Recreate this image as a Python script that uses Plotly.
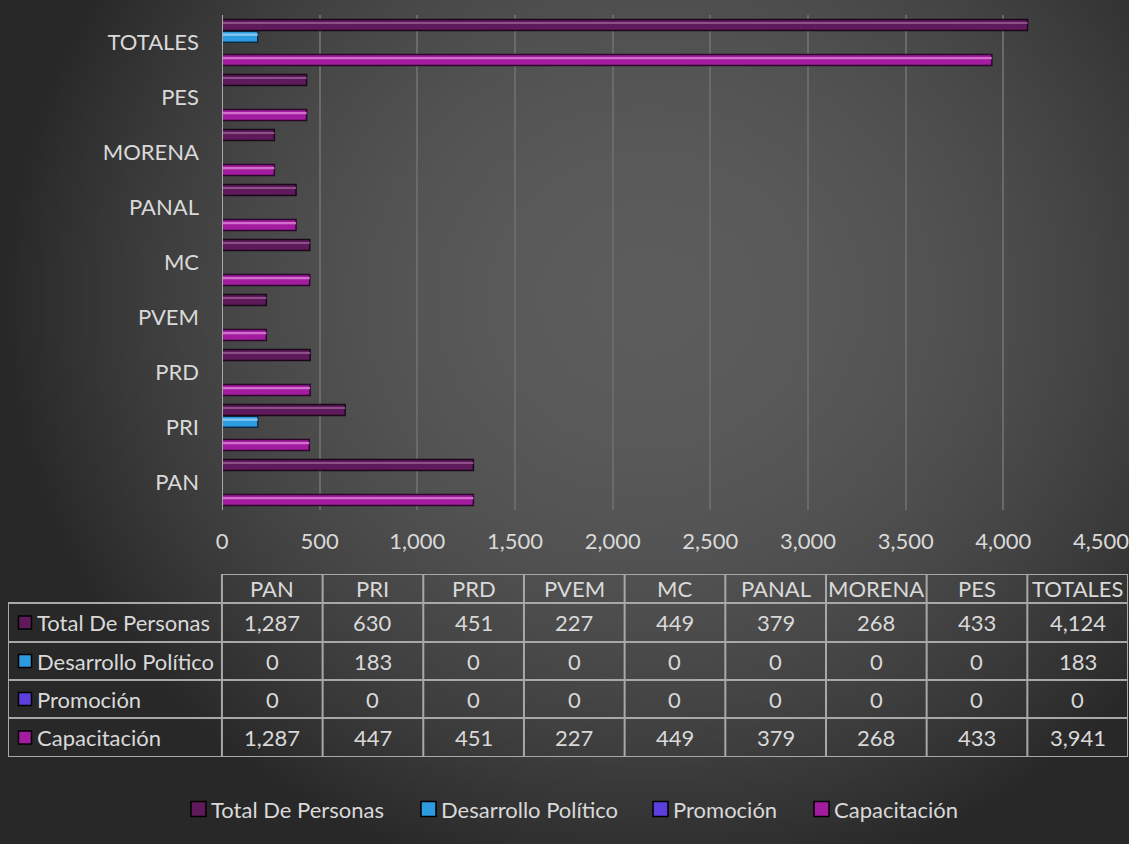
import zlib
import struct
import base64
import plotly.graph_objects as go

# ---------------- data ----------------
categories = ["PAN", "PRI", "PRD", "PVEM", "MC", "PANAL", "MORENA", "PES", "TOTALES"]
total_personas = [1287, 630, 451, 227, 449, 379, 268, 433, 4124]
desarrollo_politico = [0, 183, 0, 0, 0, 0, 0, 0, 183]
promocion = [0, 0, 0, 0, 0, 0, 0, 0, 0]
capacitacion = [1287, 447, 451, 227, 449, 379, 268, 433, 3941]
series_names = ["Total De Personas", "Desarrollo Político", "Promoción", "Capacitación"]
x_ticks = [0, 500, 1000, 1500, 2000, 2500, 3000, 3500, 4000, 4500]

# ---------------- styling ----------------
W, H = 1129, 844
ML, MR = 8, 1
PW = W - ML - MR
FONT = "Lato"
TXT = "#d9d9d9"
FS = 22
fills = {"Total De Personas": "#5e1a5a", "Desarrollo Político": "#2e9be0",
         "Promoción": "#5b3fdc", "Capacitación": "#a31ca0"}
shines = {"Total De Personas": "#8e5089", "Desarrollo Político": "#86c8f2",
          "Promoción": "#8f7af0", "Capacitación": "#d070cc"}
edges = {"Total De Personas": "#1a081a", "Desarrollo Político": "#0c2c4a",
         "Promoción": "#14103a", "Capacitación": "#2a0628"}
series_vals = {"Total De Personas": total_personas, "Desarrollo Político": desarrollo_politico,
               "Promoción": promocion, "Capacitación": capacitacion}


def px_x(px):
    return (px - ML) / PW


def px_y(py):
    return (H - py) / H


# radial background gradient as an embedded PNG
def gradient_png(w, h):
    cx, cy, rx, ry = 650, 300, 650, 600
    raw = bytearray()
    for j in range(h):
        raw.append(0)
        y = j / (h - 1) * H
        for i in range(w):
            x = i / (w - 1) * W
            d2 = ((x - cx) / rx) ** 2 + ((y - cy) / ry) ** 2
            v = int(round(40 + 52 * max(0.0, 1 - d2)))
            raw += bytes((v, v, v))

    def chunk(t, data):
        return struct.pack(">I", len(data)) + t + data + struct.pack(">I", zlib.crc32(t + data) & 0xffffffff)

    png = b"\x89PNG\r\n\x1a\n" + chunk(b"IHDR", struct.pack(">IIBBBBB", w, h, 8, 2, 0, 0, 0)) \
        + chunk(b"IDAT", zlib.compress(bytes(raw), 9)) + chunk(b"IEND", b"")
    return "data:image/png;base64," + base64.b64encode(png).decode()


fig = go.Figure()

# bars: slot 0 at the bottom of each category group
GROUP = 0.85
SLOT = GROUP / 4
BAR_W = 0.2
bottom_to_top = ["Capacitación", "Promoción", "Desarrollo Político", "Total De Personas"]
for k, name in enumerate(bottom_to_top):
    vals = [v if v else None for v in series_vals[name]]
    off = -GROUP / 2 + k * SLOT + (SLOT - BAR_W) / 2
    fig.add_trace(go.Bar(
        y=categories, x=vals, orientation="h", name=name, width=BAR_W, offset=off,
        marker=dict(color=fills[name], line=dict(color=edges[name], width=1.5)),
        showlegend=False,
    ))
    fig.add_trace(go.Bar(
        y=categories, x=vals, orientation="h", name=name, width=BAR_W * 0.2,
        offset=off + BAR_W * 0.58,
        marker=dict(color=shines[name], line=dict(width=0)),
        showlegend=False, hoverinfo="skip",
    ))

# ---------------- data table ----------------
COL_W = 100.7
HDR_W = 214.0
TBL_LEFT_PX = 8
x2_min = -0.5 - HDR_W / COL_W
row_edges = [0, 29, 68, 106, 144, 183]   # px offsets from table top
TBL_TOP, TBL_BOT = 574, 757


def x2_of_px(px):
    return x2_min + (px - TBL_LEFT_PX) / COL_W


annotations = []
shapes = []
rows = [("Total De Personas", total_personas), ("Desarrollo Político", desarrollo_politico),
        ("Promoción", promocion), ("Capacitación", capacitacion)]
hdr_c = (row_edges[0] + row_edges[1]) / 2
for i, c in enumerate(categories):
    annotations.append(dict(x=i, y=hdr_c, xref="x2", yref="y2", text=c, showarrow=False,
                            font=dict(family=FONT, size=FS, color=TXT)))
for r, (name, vals) in enumerate(rows):
    yc = (row_edges[r + 1] + row_edges[r + 2]) / 2
    for i, v in enumerate(vals):
        annotations.append(dict(x=i, y=yc, xref="x2", yref="y2", text=f"{v:,}", showarrow=False,
                                font=dict(family=FONT, size=FS, color=TXT)))
    annotations.append(dict(x=x2_of_px(35), y=yc, xref="x2", yref="y2", text=name, showarrow=False,
                            xanchor="left", font=dict(family=FONT, size=FS, color=TXT)))

fig.add_trace(go.Scatter(
    x=[x2_of_px(25)] * 4,
    y=[(row_edges[r + 1] + row_edges[r + 2]) / 2 for r in range(4)],
    mode="markers", xaxis="x2", yaxis="y2", showlegend=False, hoverinfo="skip",
    marker=dict(symbol="square", size=13, color=[fills[n] for n, _ in rows],
                line=dict(color="#000000", width=1.5)),
))

LINE = dict(color="#a8a8a8", width=2)
x_right = len(categories) - 0.5
shapes.append(dict(type="line", xref="x2", yref="y2", x0=-0.5, x1=x_right,
                   y0=row_edges[0], y1=row_edges[0], line=LINE))
for e in row_edges[1:]:
    shapes.append(dict(type="line", xref="x2", yref="y2", x0=x2_min, x1=x_right, y0=e, y1=e, line=LINE))
shapes.append(dict(type="line", xref="x2", yref="y2", x0=x2_min, x1=x2_min,
                   y0=row_edges[1], y1=row_edges[-1], line=LINE))
for k in range(len(categories) + 1):
    xx = k - 0.5
    shapes.append(dict(type="line", xref="x2", yref="y2", x0=xx, x1=xx,
                       y0=row_edges[0], y1=row_edges[-1], line=LINE))

# ---------------- legend (manual, Excel style) ----------------
LEG_Y = 809
legend_square_px = [191, 421, 653, 814]
for name, sx in zip(series_names, legend_square_px):
    shapes.append(dict(type="rect", xref="paper", yref="paper",
                       x0=px_x(sx), x1=px_x(sx + 15), y0=px_y(LEG_Y + 7.5), y1=px_y(LEG_Y - 7.5),
                       fillcolor=fills[name], line=dict(color="#000000", width=1.5)))
    annotations.append(dict(x=px_x(sx + 18), y=px_y(LEG_Y), xref="paper", yref="paper",
                            text=name, showarrow=False, xanchor="left", yanchor="middle",
                            font=dict(family=FONT, size=FS, color=TXT)))

# axis line at x = 0
shapes.append(dict(type="line", xref="x", yref="paper", x0=0, x1=0, y0=px_y(510), y1=px_y(15),
                   line=dict(color="#a8a8a8", width=2)))

fig.update_layout(
    width=W, height=H,
    margin=dict(l=ML, r=MR, t=0, b=0, autoexpand=False),
    paper_bgcolor="#333333",
    plot_bgcolor="rgba(0,0,0,0)",
    barmode="overlay",
    showlegend=False,
    font=dict(family=FONT, size=FS, color=TXT),
    images=[dict(source=gradient_png(226, 169), xref="paper", yref="paper",
                 x=px_x(0), y=1, sizex=W / PW, sizey=1, sizing="stretch", layer="below")],
    xaxis=dict(domain=[px_x(222), px_x(1101)], range=[0, 4500], tickvals=x_ticks, tickformat=",",
               showgrid=True, gridcolor="#6a6a6a", gridwidth=1.5, zeroline=False,
               showline=False, ticks="", ticklabelstandoff=16, anchor="y",
               ticklabeloverflow="allow", automargin=False,
               tickfont=dict(family=FONT, size=FS, color=TXT), fixedrange=True),
    yaxis=dict(domain=[px_y(510), px_y(15)], showgrid=False, zeroline=False, showline=False,
               ticks="", ticklabelstandoff=22, anchor="x", type="category", automargin=False,
               categoryorder="array", categoryarray=categories, range=[-0.5, len(categories) - 0.5],
               tickfont=dict(family=FONT, size=FS, color=TXT), fixedrange=True),
    xaxis2=dict(domain=[0, 1], range=[x2_min, x_right], visible=False, anchor="y2", fixedrange=True),
    yaxis2=dict(domain=[px_y(TBL_BOT), px_y(TBL_TOP)], range=[row_edges[-1], row_edges[0]],
                visible=False, anchor="x2", fixedrange=True),
    annotations=annotations,
    shapes=shapes,
)

fig.write_html(
    "out.html",
    config={"displayModeBar": False},
    post_script="document.body.style.margin='0px';document.documentElement.style.overflow='hidden';",
)
